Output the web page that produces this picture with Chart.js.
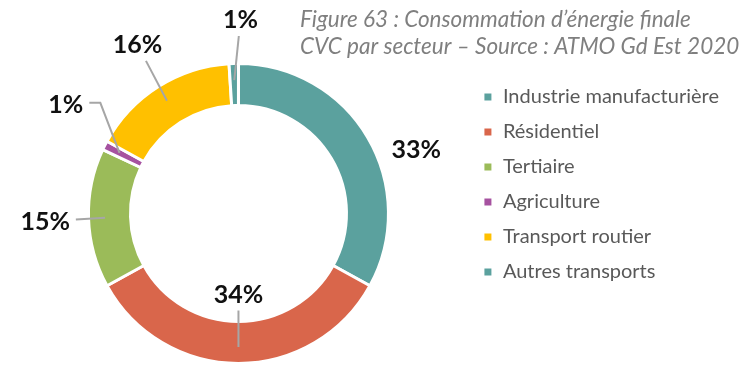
<!DOCTYPE html>
<html lang="fr">
<head>
<meta charset="utf-8">
<title>Consommation d’énergie finale CVC par secteur</title>
<script src="https://cdn.jsdelivr.net/npm/chart.js@4"></script>
<style>
  html, body { margin: 0; padding: 0; background: #fff; }
  canvas { display: block; }
</style>
</head>
<body>
<canvas id="energy-chart" width="752" height="365"></canvas>
<script>
// Sectors and their share of final energy use (%)
const sectors = ["Industrie manufacturière", "Résidentiel", "Tertiaire", "Agriculture", "Transport routier", "Autres transports"];
const shares = [33, 34, 15, 1, 16, 1];
const sectorColors = ["#5ba19e", "#d9664b", "#9bbb59", "#a652a0", "#ffc000", "#5ba19e"];
const titleLines = ["Figure 63 : Consommation d’énergie finale", "CVC par secteur – Source : ATMO Gd Est 2020"];

// Percentage label placement: distance from centre (x outer radius), angle nudge (deg), leader style
const labelDist = [1.26, 0.54, 1.29, 1.36, 1.31, 1.29];
const labelShift = [10.8, 0, -0.6, 5.2, 1.5, 2.4];
const labelLeader = ["none", "straight", "straight", "elbow", "straight", "straight"];

// Draws the "xx%" labels with their grey leader lines
const percentLabels = {
  id: "percentLabels",
  afterDatasetsDraw(chart) {
    const ctx = chart.ctx;
    const meta = chart.getDatasetMeta(0);
    ctx.save();
    ctx.font = "bold 25px Lato";
    ctx.textAlign = "center";
    ctx.textBaseline = "middle";
    ctx.strokeStyle = "#a6a6a6";
    ctx.lineWidth = 2;

    meta.data.forEach((arc, i) => {
      const p = arc.getProps(["x", "y", "startAngle", "endAngle", "innerRadius", "outerRadius"], true);
      const mid = (p.startAngle + p.endAngle) / 2;
      const a = mid + labelShift[i] * Math.PI / 180;
      const lx = p.x + Math.cos(a) * p.outerRadius * labelDist[i];
      const ly = p.y + Math.sin(a) * p.outerRadius * labelDist[i];
      const text = shares[i] + "%";
      const w = ctx.measureText(text).width;

      if (labelLeader[i] !== "none") {
        const r = p.outerRadius * 0.89;
        const ax = p.x + Math.cos(mid) * r;
        const ay = p.y + Math.sin(mid) * r;
        ctx.beginPath();
        if (labelLeader[i] === "elbow") {
          const sx = lx + w / 2 + 6;
          const sy = ly - 2;
          ctx.moveTo(sx, sy);
          ctx.lineTo(sx + 11, sy);
          ctx.lineTo(ax, ay);
        } else {
          const dx = ax - lx, dy = ay - ly;
          const hw = w / 2 + 6, hh = 16;
          const t = Math.min(dx ? hw / Math.abs(dx) : Infinity, dy ? hh / Math.abs(dy) : Infinity);
          ctx.moveTo(lx + dx * t, ly + dy * t);
          ctx.lineTo(ax, ay);
        }
        ctx.stroke();
      }

      ctx.fillStyle = "#111111";
      ctx.fillText(text, lx, ly);
    });
    ctx.restore();
  }
};

// Italic caption in the top right corner
const figureCaption = {
  id: "figureCaption",
  afterDraw(chart) {
    const ctx = chart.ctx;
    ctx.save();
    ctx.font = "italic 22.5px Lato";
    ctx.fillStyle = "#7f7f7f";
    ctx.textAlign = "left";
    ctx.textBaseline = "alphabetic";
    titleLines.forEach((line, i) => ctx.fillText(line, 300, 27 + i * 27));
    ctx.restore();
  }
};

const ctx = document.getElementById("energy-chart").getContext("2d");

new Chart(ctx, {
  type: "doughnut",
  data: {
    labels: sectors,
    datasets: [{
      data: shares,
      backgroundColor: sectorColors,
      borderColor: "#ffffff",
      borderWidth: 3
    }]
  },
  options: {
    responsive: false,
    animation: false,
    events: [],
    cutout: "72%",
    layout: {
      padding: { top: 62, left: 9, right: 23, bottom: 0 }
    },
    plugins: {
      tooltip: { enabled: false },
      legend: {
        position: "right",
        align: "start",
        title: {
          display: true,
          text: "",
          padding: 0,
          font: { size: 1, lineHeight: "10px" }
        },
        labels: {
          boxWidth: 10,
          boxHeight: 10,
          padding: 15,
          color: "#595959",
          font: { family: "Lato", size: 20 }
        }
      }
    }
  },
  plugins: [percentLabels, figureCaption]
});
</script>
</body>
</html>
